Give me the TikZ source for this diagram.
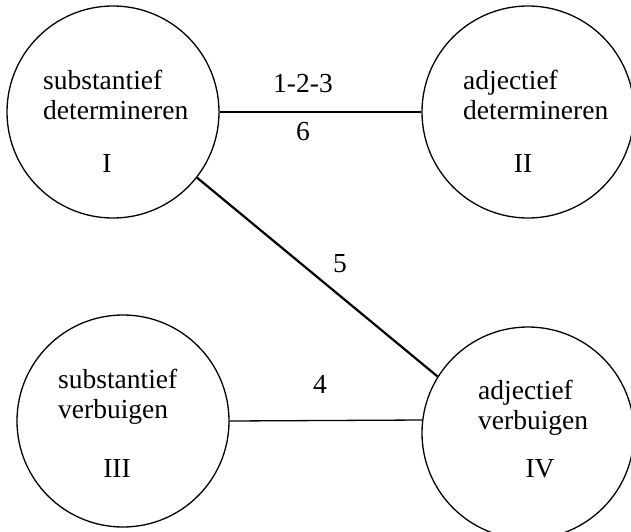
\documentclass[tikz,border=0pt]{standalone}
\usepackage{fontspec}
\setmainfont{Liberation Serif}
\usetikzlibrary{positioning}
\tikzset{
    stage/.style={draw, circle, line width=1.3pt, minimum size=212pt, inner sep=0pt},
    link/.style={line width=1.3pt},
    heavylink/.style={line width=2.2pt},
    word/.style={font=\fontsize{27.5}{30}\selectfont, align=left, inner sep=0pt},
    num/.style={font=\fontsize{27.5}{30}\selectfont, inner sep=0pt}
}

\begin{document}
\begin{tikzpicture}[x=1pt, y=-1pt]
    \useasboundingbox (0,0) rectangle (631,532);
    % Circles
    \node[stage] (I) at (113,112) {};
    \node[stage] (II) at (528,112) {};
    \node[stage] (III) at (123,421) {};
    \node[stage] (IV) at (528,433) {};
    % Texts in the circles
    \node[word, anchor=north west] (tI) at (43,70) {substantief\\determineren};
    \node[num, anchor=base] (nI) at (107,172) {I};
    \node[word, anchor=north west] (tII) at (463,70) {adjectief\\determineren};
    \node[num, anchor=base] (nII) at (523,172) {II};
    \node[word, anchor=north west] (tIII) at (58,369) {substantief\\verbuigen};
    \node[num, anchor=base] (nIII) at (117,477) {III};
    \node[word, anchor=north west] (tIV) at (478,380) {adjectief\\verbuigen};
    \node[num, anchor=base] (nIV) at (540,477) {IV};
    % Connections
    \draw[link] (I.east) -- (II.west);
    \draw[heavylink] (I.-38) -- (IV.148);
    \draw[link] (III.east) -- (IV.173.5);
    % Numbers on the connections
    \node[num, anchor=base] (l123) at (303,93) {1-2-3};
    \node[num, anchor=base] (l6) at (303,140) {6};
    \node[num, anchor=base] (l5) at (340,272) {5};
    \node[num, anchor=base] (l4) at (320,393) {4};
\end{tikzpicture}
\end{document}
